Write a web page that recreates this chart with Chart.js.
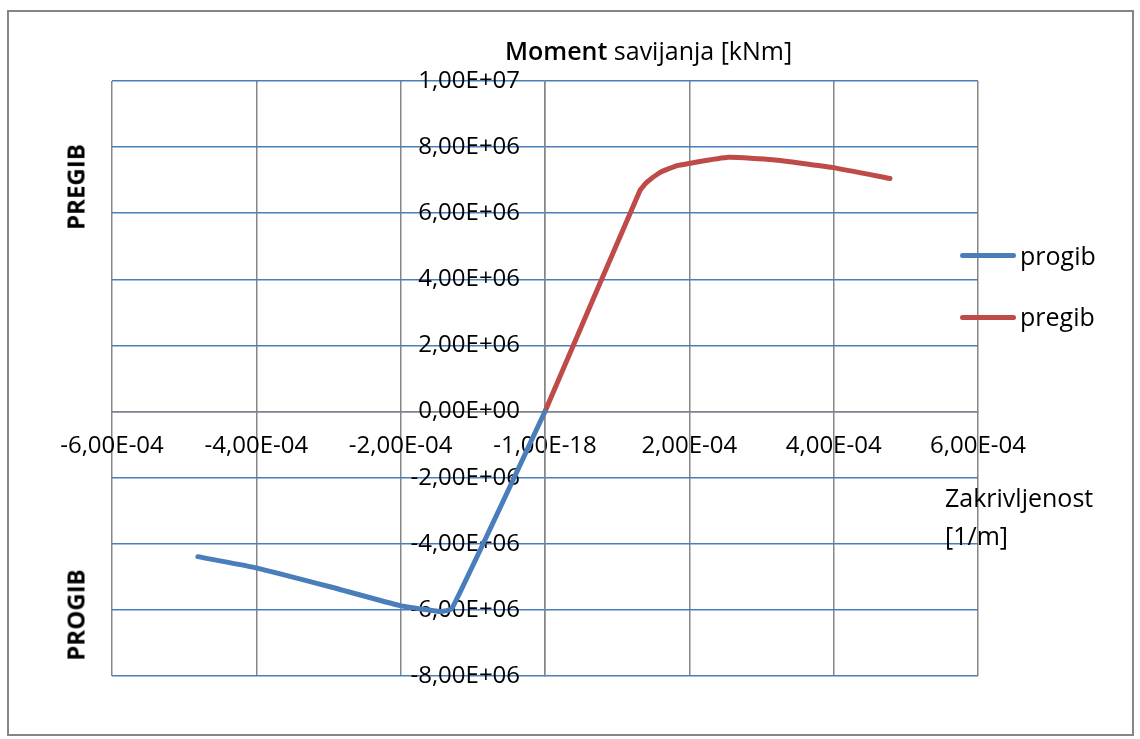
<!DOCTYPE html>
<html>
<head>
<meta charset="utf-8">
<title>Moment savijanja</title>
<script src="https://cdn.jsdelivr.net/npm/chart.js@4/dist/chart.umd.min.js"></script>
<style>
  body { margin: 0; background: #fff; font-family: "Open Sans", sans-serif; color: #000; }
  #wrap { position: relative; width: 1140px; height: 739px; overflow: hidden; }
  #frame { position: absolute; left: 7px; top: 10px; width: 1127px; height: 726px; border: 2px solid #868686; box-sizing: border-box; }
  canvas { position: absolute; left: 0; top: 0; }
  .lbl { position: absolute; font-size: 25px; white-space: nowrap; line-height: 1; }
  .side { position: absolute; font-size: 24px; font-weight: bold; transform: translate(-50%, -50%) rotate(-90deg); white-space: nowrap; }
  .leg { position: absolute; left: 960px; width: 56px; height: 5px; border-radius: 3px; }
</style>
</head>
<body>
<div id="wrap">
  <div id="frame"></div>
  <canvas id="chart" width="1140" height="739"></canvas>

  <div class="lbl" style="left:505px; top:38px;"><span style="font-weight:600">Moment</span> savijanja [kNm]</div>
  <div class="lbl" style="left:945px; top:478px; line-height:38px;">Zakrivljenost<br>[1/m]</div>

  <div class="side" style="left:75px; top:187px;">PREGIB</div>
  <div class="side" style="left:75px; top:615px;">PROGIB</div>

  <div class="leg" style="top:253px; background:#4a7ebb;"></div>
  <div class="lbl" style="left:1020px; top:243px;">progib</div>
  <div class="leg" style="top:315px; background:#be4b48;"></div>
  <div class="lbl" style="left:1020px; top:304px;">pregib</div>
</div>

<script>
// curvature [1/m] and moment [kNm]
const progibX = [-4.81e-4, -4.02e-4, -2.98e-4, -2.01e-4, -1.66e-4, -1.45e-4, -1.29e-4, 0];
const progibY = [-4.39e6, -4.72e6, -5.30e6, -5.87e6, -5.99e6, -6.05e6, -5.96e6, 0];

const pregibX = [0, 1.316e-4, 1.41e-4, 1.59e-4, 1.83e-4, 1.98e-4, 2.54e-4, 3.16e-4, 3.99e-4, 4.78e-4];
const pregibY = [0, 6.69e6, 6.93e6, 7.23e6, 7.44e6, 7.50e6, 7.69e6, 7.62e6, 7.38e6, 7.05e6];

const xTickLabels = ["-6,00E-04", "-4,00E-04", "-2,00E-04", "-1,00E-18", "2,00E-04", "4,00E-04", "6,00E-04"];
const yTickLabels = ["-8,00E+06", "-6,00E+06", "-4,00E+06", "-2,00E+06", "0,00E+00",
                     "2,00E+06", "4,00E+06", "6,00E+06", "8,00E+06", "1,00E+07"];

function toPoints(xs, ys) {
  return xs.map((x, i) => ({ x: x, y: ys[i] }));
}

const tickFont = { family: "Open Sans", size: 24 };

new Chart(document.getElementById("chart"), {
  type: "scatter",
  data: {
    datasets: [
      {
        label: "progib",
        data: toPoints(progibX, progibY),
        showLine: true,
        borderColor: "#4a7ebb",
        borderWidth: 5,
        pointRadius: 0,
        tension: 0.15,
        borderCapStyle: "round",
        borderJoinStyle: "round"
      },
      {
        label: "pregib",
        data: toPoints(pregibX, pregibY),
        showLine: true,
        borderColor: "#be4b48",
        borderWidth: 5,
        pointRadius: 0,
        tension: 0.15,
        borderCapStyle: "round",
        borderJoinStyle: "round"
      }
    ]
  },
  options: {
    responsive: false,
    animation: false,
    layout: { padding: { left: 112, top: 81, right: 162, bottom: 63 } },
    plugins: {
      legend: { display: false },
      tooltip: { enabled: false }
    },
    scales: {
      x: {
        type: "linear",
        position: { y: 0 },
        min: -6e-4,
        max: 6e-4,
        grid: { color: "#868686", lineWidth: 1.5, drawTicks: false },
        border: { color: "#868686", width: 1.5 },
        ticks: {
          stepSize: 2e-4,
          color: "#000",
          font: tickFont,
          padding: 20,
          maxRotation: 0,
          autoSkip: false,
          callback: (v, i) => xTickLabels[i]
        }
      },
      y: {
        type: "linear",
        position: { x: 0 },
        min: -8e6,
        max: 1e7,
        grid: { color: "#4a7ebb", lineWidth: 1.5, drawTicks: false },
        border: { color: "#868686", width: 1.5 },
        ticks: {
          stepSize: 2e6,
          color: "#000",
          font: tickFont,
          autoSkip: false,
          // centred axis ignores ticks.padding, so pad the text itself
          callback: (v, i) => yTickLabels[i] + "    "
        }
      }
    }
  }
});
</script>
</body>
</html>
